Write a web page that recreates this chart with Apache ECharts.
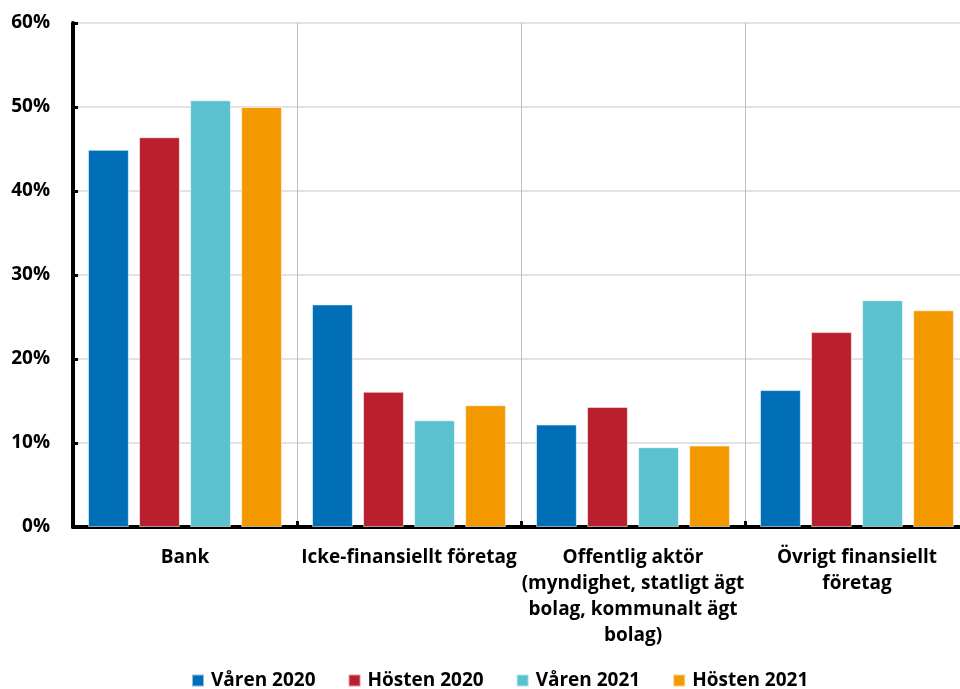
<!DOCTYPE html>
<html>
<head>
<meta charset="utf-8">
<script src="https://cdn.jsdelivr.net/npm/echarts@6/dist/echarts.min.js"></script>
<style>
  html, body { margin: 0; padding: 0; background: #fff; }
  #chart { width: 960px; height: 689px; }
</style>
</head>
<body>
<div id="chart"></div>
<script>
// Categories (x axis)
const categories = [
  'Bank',
  'Icke-finansiellt företag',
  'Offentlig aktör\n(myndighet, statligt ägt\nbolag, kommunalt ägt\nbolag)',
  'Övrigt finansiellt\nföretag'
];

// Series names and shares (%)
const seriesNames = ['Våren 2020', 'Hösten 2020', 'Våren 2021', 'Hösten 2021'];
const varen2020  = [44.9, 26.5, 12.2, 16.3];
const hosten2020 = [46.4, 16.1, 14.3, 23.2];
const varen2021  = [50.8, 12.7,  9.5, 27.0];
const hosten2021 = [50.0, 14.5,  9.7, 25.8];
const seriesData = [varen2020, hosten2020, varen2021, hosten2021];

const colors = ['#006fb7', '#b91f2d', '#5bc1cf', '#f49a00'];
const FONT = '"Open Sans", Lato, sans-serif';

const chart = echarts.init(document.getElementById('chart'), null, { renderer: 'canvas' });

chart.setOption({
  animation: false,
  color: colors,
  // plot runs a little past the right edge of the canvas
  grid: { left: 73, width: 896, top: 23, bottom: 162, containLabel: false, outerBoundsMode: 'none' },
  legend: {
    top: 666,
    left: 186,
    itemWidth: 12,
    itemHeight: 12,
    itemGap: 32,
    icon: 'rect',
    textStyle: { fontFamily: FONT, fontWeight: 'bold', fontSize: 19, color: '#000', padding: [0, 0, 0, 2] },
    data: seriesNames
  },
  xAxis: {
    type: 'category',
    data: categories,
    axisLine: { show: true, lineStyle: { color: '#000', width: 4 } },
    axisTick: { show: true, inside: true, length: 6, lineStyle: { color: '#000', width: 3 } },
    splitLine: { show: true, lineStyle: { color: '#bfbfbf', width: 1 } },
    axisLabel: {
      interval: 0,
      margin: 18,
      fontFamily: FONT,
      fontWeight: 'bold',
      fontSize: 19,
      lineHeight: 26,
      color: '#000'
    }
  },
  yAxis: {
    type: 'value',
    min: 0,
    max: 60,
    interval: 10,
    axisLine: { show: true, lineStyle: { color: '#000', width: 4 } },
    axisTick: { show: true, inside: true, length: 5, lineStyle: { color: '#000', width: 3 } },
    splitLine: { show: true, lineStyle: { color: '#d9d9d9', width: 1.5 } },
    axisLabel: {
      margin: 23,
      fontFamily: FONT,
      fontWeight: 'bold',
      fontSize: 19,
      color: '#000',
      formatter: '{value}%'
    }
  },
  series: seriesNames.map((name, i) => ({
    name: name,
    type: 'bar',
    data: seriesData[i],
    barGap: '25%',
    barCategoryGap: '13.4%',
    itemStyle: { borderColor: 'rgba(255,255,255,0.55)', borderWidth: 1 }
  }))
});
</script>
</body>
</html>
